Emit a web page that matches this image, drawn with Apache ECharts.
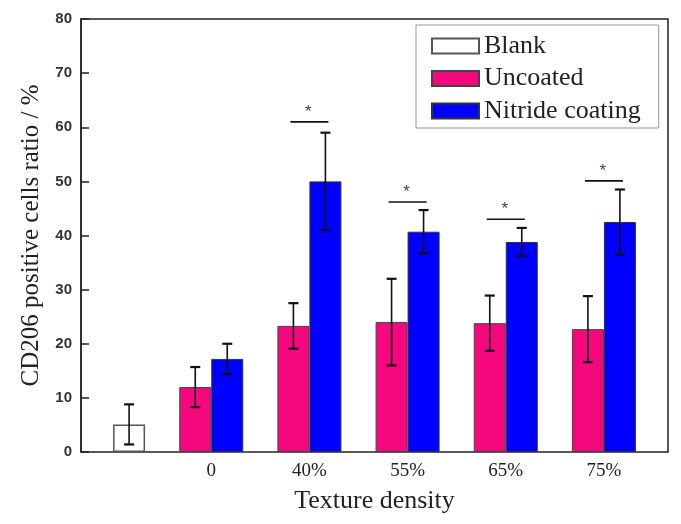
<!DOCTYPE html>
<html>
<head>
<meta charset="utf-8">
<script src="https://cdn.jsdelivr.net/npm/echarts@6/dist/echarts.min.js"></script>
<style>html,body{margin:0;padding:0;background:#fff}#c{width:681px;height:524px}</style>
</head>
<body>
<div id="c"></div>
<script>
const categories = ['', '0', '40%', '55%', '65%', '75%'];
const blankMean = [5.1, '-', '-', '-', '-', '-'];
const blankSD = [3.7, null, null, null, null, null];
const uncoatedMean = ['-', 12.0, 23.3, 24.0, 23.8, 22.7];
const uncoatedSD = [null, 3.7, 4.2, 8.0, 5.1, 6.1];
const nitrideMean = ['-', 17.2, 50.0, 40.7, 38.8, 42.5];
const nitrideSD = [null, 2.8, 9.0, 4.0, 2.6, 6.0];
const sigCategories = ['40%', '55%', '65%', '75%'];
const sigLevels = [61.0, 46.2, 43.0, 50.1];
const yTicks = {min: 0, max: 80, interval: 10};

const BAR_W = 32, CAP = 5;
const SERIF = '"Liberation Serif","Times New Roman",serif';

function errData(means, sds) {
  const out = [];
  means.forEach((m, i) => { if (m !== '-' && sds[i] != null) out.push([i, m, sds[i]]); });
  return out;
}
function errRender(sign) {
  return function (params, api) {
    const ci = api.value(0), m = api.value(1), sd = api.value(2);
    const t = api.coord([ci, m + sd]), b = api.coord([ci, m - sd]);
    const x = t[0] + sign * BAR_W / 2;
    const st = {stroke: '#111', lineWidth: 1.6};
    return {type: 'group', children: [
      {type: 'line', shape: {x1: x, y1: t[1], x2: x, y2: b[1]}, style: st},
      {type: 'line', shape: {x1: x - CAP, y1: t[1], x2: x + CAP, y2: t[1]}, style: {stroke: '#111', lineWidth: 2.2}},
      {type: 'line', shape: {x1: x - CAP, y1: b[1], x2: x + CAP, y2: b[1]}, style: {stroke: '#111', lineWidth: 2.2}}
    ]};
  };
}
const sigData = sigCategories.map((c, i) => [categories.indexOf(c), sigLevels[i]]);

const chart = echarts.init(document.getElementById('c'), null, {renderer: 'canvas'});
chart.setOption({
  backgroundColor: '#fff',
  animation: false,
  grid: [
    {left: 64, right: 28, top: 19, bottom: 72},
    {left: 81, right: 13, top: 19, bottom: 72, show: true, borderColor: '#222', borderWidth: 1.5, backgroundColor: 'transparent'}
  ],
  legend: {
    data: ['Blank', 'Uncoated', 'Nitride coating'],
    orient: 'vertical', left: 416, top: 25,
    padding: [8, 18, 4, 15],
    itemWidth: 47, itemHeight: 15, itemGap: 6.5,
    borderColor: '#999', borderWidth: 1,
    textStyle: {fontFamily: SERIF, fontSize: 26, color: '#222'},
    icon: 'rect'
  },
  xAxis: [
    {type: 'category', gridIndex: 0, data: categories,
     axisLine: {show: false}, axisTick: {show: false},
     axisLabel: {fontFamily: SERIF, fontSize: 19, color: '#222', margin: 10}},
    {type: 'value', gridIndex: 1, min: 0, max: 1,
     axisLine: {show: false}, axisTick: {show: false}, axisLabel: {show: false}, splitLine: {show: false},
     name: 'Texture density', nameLocation: 'middle', nameGap: 36,
     nameTextStyle: {fontFamily: SERIF, fontSize: 26, color: '#222'}}
  ],
  yAxis: [
    {type: 'value', gridIndex: 0, min: yTicks.min, max: yTicks.max, interval: yTicks.interval, show: false},
    {type: 'value', gridIndex: 1, min: yTicks.min, max: yTicks.max, interval: yTicks.interval,
     axisLine: {show: true, lineStyle: {color: '#222', width: 1.5}},
     axisTick: {show: true, inside: true, length: 8, lineStyle: {color: '#222', width: 1.5}},
     splitLine: {show: false},
     axisLabel: {fontFamily: '"Liberation Sans",Arial,sans-serif', fontWeight: 'bold', fontSize: 15, color: '#333', margin: 9},
     name: 'CD206 positive cells ratio / %', nameLocation: 'middle', nameGap: 29,
     nameTextStyle: {fontFamily: SERIF, fontSize: 25, color: '#222'}}
  ],
  series: [
    {name: 'Uncoated', type: 'bar', xAxisIndex: 0, yAxisIndex: 0, data: uncoatedMean,
     barWidth: BAR_W, barGap: '0%',
     itemStyle: {color: '#F5077E', borderColor: '#444', borderWidth: 1}},
    {name: 'Nitride coating', type: 'bar', xAxisIndex: 0, yAxisIndex: 0, data: nitrideMean, stack: 'g',
     barWidth: BAR_W, barGap: '0%',
     itemStyle: {color: '#0000FF', borderColor: '#333', borderWidth: 1}},
    {name: 'Blank', type: 'bar', xAxisIndex: 0, yAxisIndex: 0, data: blankMean, stack: 'g',
     barWidth: BAR_W, barGap: '0%',
     itemStyle: {color: '#fff', borderColor: '#555', borderWidth: 1.5}},
    {name: 'errU', type: 'custom', xAxisIndex: 0, yAxisIndex: 0, data: errData(uncoatedMean, uncoatedSD),
     renderItem: errRender(-1), z: 5, silent: true},
    {name: 'errN', type: 'custom', xAxisIndex: 0, yAxisIndex: 0, data: errData(nitrideMean, nitrideSD),
     renderItem: errRender(1), z: 5, silent: true},
    {name: 'errB', type: 'custom', xAxisIndex: 0, yAxisIndex: 0, data: errData(blankMean, blankSD),
     renderItem: errRender(1), z: 5, silent: true},
    {name: 'sig', type: 'custom', xAxisIndex: 0, yAxisIndex: 0, data: sigData, z: 5, silent: true,
     renderItem: function (params, api) {
       const p = api.coord([api.value(0), api.value(1)]);
       return {type: 'group', children: [
         {type: 'line', shape: {x1: p[0] - 19, y1: p[1], x2: p[0] + 19, y2: p[1]}, style: {stroke: '#111', lineWidth: 1.6}},
         {type: 'text', style: {text: '*', x: p[0] - 1, y: p[1] - 10, fontSize: 17, fontFamily: '"Liberation Sans",Arial,sans-serif', fill: '#444', align: 'center', verticalAlign: 'middle'}}
       ]};
     }}
  ]
});
</script>
</body>
</html>
